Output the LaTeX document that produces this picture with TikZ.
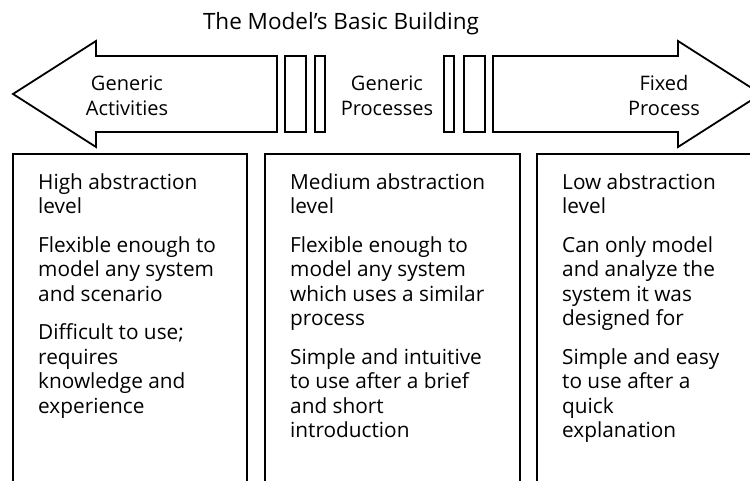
\documentclass[tikz,border=0pt]{standalone}
\usepackage{fontspec}
\setmainfont{Open Sans}
\begin{document}
\begin{tikzpicture}[x=1pt,y=-1pt,
  shape line/.style={draw=black,line width=1.8pt,line join=miter},
  body/.style={anchor=north west,inner sep=0pt,align=left,
    font=\fontsize{20.8}{24.5}\selectfont},
  label/.style={inner sep=0pt,align=center,font=\fontsize{20}{25}\selectfont},
  heading/.style={inner sep=0pt,anchor=base,font=\fontsize{22.5}{26}\selectfont}]
\useasboundingbox (0,0) rectangle (750,481);
\begin{scope}
\clip (0,0) rectangle (750,481);
% arrows
\draw[shape line] (13,94) -- (96,41) -- (96,56) -- (277,56) -- (277,132) -- (96,132) -- (96,147) -- cycle;
\draw[shape line] (493,56) -- (678,56) -- (678,41) -- (761,94) -- (678,147) -- (678,132) -- (493,132) -- cycle;
% bars
\draw[shape line] (285,56) rectangle (306,132);
\draw[shape line] (315,56) rectangle (325,132);
\draw[shape line] (444,56) rectangle (454,132);
\draw[shape line] (464,56) rectangle (485,132);
% boxes
\draw[shape line] (13,490) -- (13,154) -- (247,154) -- (247,490);
\draw[shape line] (265,490) -- (265,154) -- (520,154) -- (520,490);
\draw[shape line] (537,490) -- (537,154) -- (770,154) -- (770,490);
\end{scope}
% title
\node[heading] (title) at (341,30) {The Model's Basic Building};
% arrow labels
\node[label] (ga) at (127,96) {Generic\\Activities};
\node[label] (gp) at (387,96) {Generic\\Processes};
\node[label] (fp) at (664,96) {Fixed\\Process};
% box texts
\node[body] (t1) at (38,173) {High abstraction\\level\\[14pt]Flexible enough to\\model any system\\and scenario\\[14pt]Difficult to use;\\requires\\knowledge and\\experience};
\node[body] (t2) at (290,173) {Medium abstraction\\level\\[14pt]Flexible enough to\\model any system\\which uses a similar\\process\\[14pt]Simple and intuitive\\to use after a brief\\and short\\introduction};
\node[body] (t3) at (562,173) {Low abstraction\\level\\[14pt]Can only model\\and analyze the\\system it was\\designed for\\[14pt]Simple and easy\\to use after a\\quick\\explanation};
\end{tikzpicture}
\end{document}
